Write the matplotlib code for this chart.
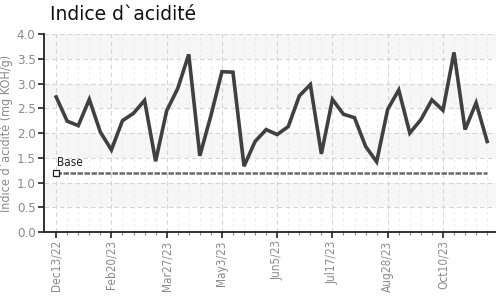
import matplotlib
matplotlib.use("Agg")
import matplotlib.pyplot as plt
import numpy as np

values = [2.73, 2.24, 2.15, 2.68, 2.02, 1.66, 2.25, 2.40, 2.66, 1.43,
          2.45, 2.90, 3.59, 1.54, 2.35, 3.24, 3.23, 1.33, 1.83, 2.07,
          1.97, 2.13, 2.75, 2.98, 1.58, 2.68, 2.38, 2.31, 1.73, 1.42,
          2.48, 2.87, 2.00, 2.27, 2.67, 2.46, 3.63, 2.07, 2.61, 1.83]
base_value = 1.2
tick_labels = ["Dec13/22", "Feb20/23", "Mar27/23", "May3/23", "Jun5/23",
               "Jul17/23", "Aug28/23", "Oct10/23"]
tick_index = [0, 5, 10, 15, 20, 25, 30, 35]

narrow = dict(family='DejaVu Sans', stretch='condensed')
gray = '#8a8a8a'

fig = plt.figure(figsize=(4.96, 2.99), dpi=100)
ax = fig.add_axes([0.0887, 0.224, 0.9113, 0.662])

x = np.arange(len(values))
ax.set_xlim(-1.1, 39.8)
ax.set_ylim(0, 4.0)

# alternating bands
for lo in np.arange(0.5, 4.0, 1.0):
    ax.axhspan(lo, lo + 0.5, color='#f6f6f6', zorder=0, lw=0)

ax.set_xticks(tick_index)
ax.set_xticklabels(tick_labels, rotation=90, fontsize=8.5, color=gray, **narrow)
ax.set_xticks(x, minor=True)
ax.set_yticks(np.arange(0, 4.01, 0.5))
ax.set_yticklabels([f"{v:.1f}" for v in np.arange(0, 4.01, 0.5)],
                   fontsize=9.5, color=gray, **narrow)
ax.tick_params(axis='both', which='major', length=4, width=1.2, color='#222222', pad=2)
ax.tick_params(axis='x', which='minor', length=2, width=0.8, color='#888888')

ax.grid(True, which='major', axis='both', linestyle=(0, (4, 3)), color='#d4d4d4', lw=0.8, zorder=0.5)
ax.grid(True, which='minor', axis='x', linestyle=(0, (3, 4)), color='#e6e6e6', lw=0.6, zorder=0.5)

for s in ['top', 'right']:
    ax.spines[s].set_visible(False)
for s in ['left', 'bottom']:
    ax.spines[s].set_color('#222222')
    ax.spines[s].set_linewidth(1.3)

ax.plot(x, values, color='#404040', lw=2.6, zorder=3, solid_joinstyle='miter')
ax.plot(x, [base_value] * len(x), color='#6a6a6a', lw=1.8, linestyle=(0, (2.2, 0.6)), zorder=2)
ax.plot([x[0]], [base_value], marker='s', ms=4, mfc='white', mec='#222222', mew=0.9, zorder=4)
ax.text(x[0] + 0.1, base_value + 0.07, "Base", fontsize=8.5, color='#222222',
        ha='left', va='bottom', zorder=4, **narrow)

ax.set_ylabel("Indice d`acidité (mg KOH/g)", fontsize=9, color=gray, labelpad=3, **narrow)

fig.text(0.1, 0.95, "Indice d`acidité", fontsize=13.5, color='#111111', ha='left', va='center')

fig.savefig("out.png", dpi=100)
